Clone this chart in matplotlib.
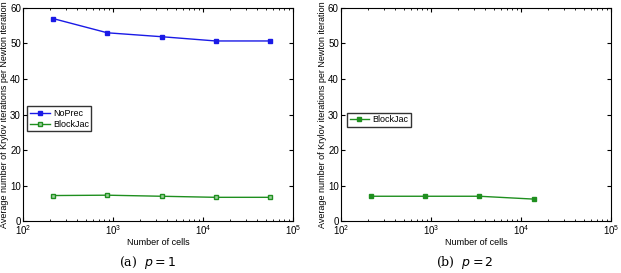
import numpy as np
import matplotlib.pyplot as plt

plt.rcParams['font.family'] = ['Liberation Sans', 'DejaVu Sans']

# number of cells
cells_p1 = [216, 864, 3456, 13824, 55296]
cells_p2 = [216, 864, 3456, 13824]

# avg krylov iterations per newton iteration
noprec_p1 = [57.0, 53.0, 51.9, 50.7, 50.7]
blockjac_p1 = [7.2, 7.3, 7.0, 6.7, 6.7]
blockjac_p2 = [7.0, 7.0, 7.0, 6.2]

ylab = 'Average number of Krylov iterations per Newton iteration'

fig = plt.figure(figsize=(6.21, 2.73), dpi=100)
ax1 = fig.add_axes([0.037, 0.190, 0.435, 0.781])
ax2 = fig.add_axes([0.549, 0.190, 0.435, 0.781])

ax1.plot(cells_p1, noprec_p1, '-s', color='#1a1ae6', lw=1.0, ms=2.5, mfc='#1a1ae6', label='NoPrec')
ax1.plot(cells_p1, blockjac_p1, '-s', color='#1f8f1f', lw=1.0, ms=3.5, mfc='#9fd09f', label='BlockJac')
ax2.plot(cells_p2, blockjac_p2, '-s', color='#1f8f1f', lw=1.0, ms=2.5, mfc='#1f8f1f', label='BlockJac')

for ax in (ax1, ax2):
    ax.set_xscale('log')
    ax.set_xlim(1e2, 1e5)
    ax.set_ylim(0, 60)
    ax.set_yticks(np.arange(0, 61, 10))
    ax.tick_params(which='both', direction='in', top=True, right=True, labelsize=7, pad=1.5)
    ax.tick_params(which='major', length=3)
    ax.tick_params(which='minor', length=1.5)
    ax.set_xlabel('Number of cells', fontsize=6.5, labelpad=1)
    ax.set_ylabel(ylab, fontsize=6.5)
    ax.yaxis.set_label_coords(-0.05, 0.5)
    for s in ax.spines.values():
        s.set_linewidth(0.8)

ax1.legend(loc='upper left', bbox_to_anchor=(0.0, 0.56), fontsize=6.5, frameon=True, fancybox=False,
           edgecolor='black', handlelength=2.2, borderpad=0.3, labelspacing=0.2, handletextpad=0.3)
ax2.legend(loc='upper left', bbox_to_anchor=(0.005, 0.53), fontsize=6.5, frameon=True, fancybox=False,
           edgecolor='black', handlelength=2.2, borderpad=0.3, labelspacing=0.2, handletextpad=0.3)

fig.text(0.238, 0.037, '(a)  $p=1$', ha='center', va='center', fontsize=9, family='serif')
fig.text(0.749, 0.037, '(b)  $p=2$', ha='center', va='center', fontsize=9, family='serif')

fig.savefig('out.png', dpi=100)
